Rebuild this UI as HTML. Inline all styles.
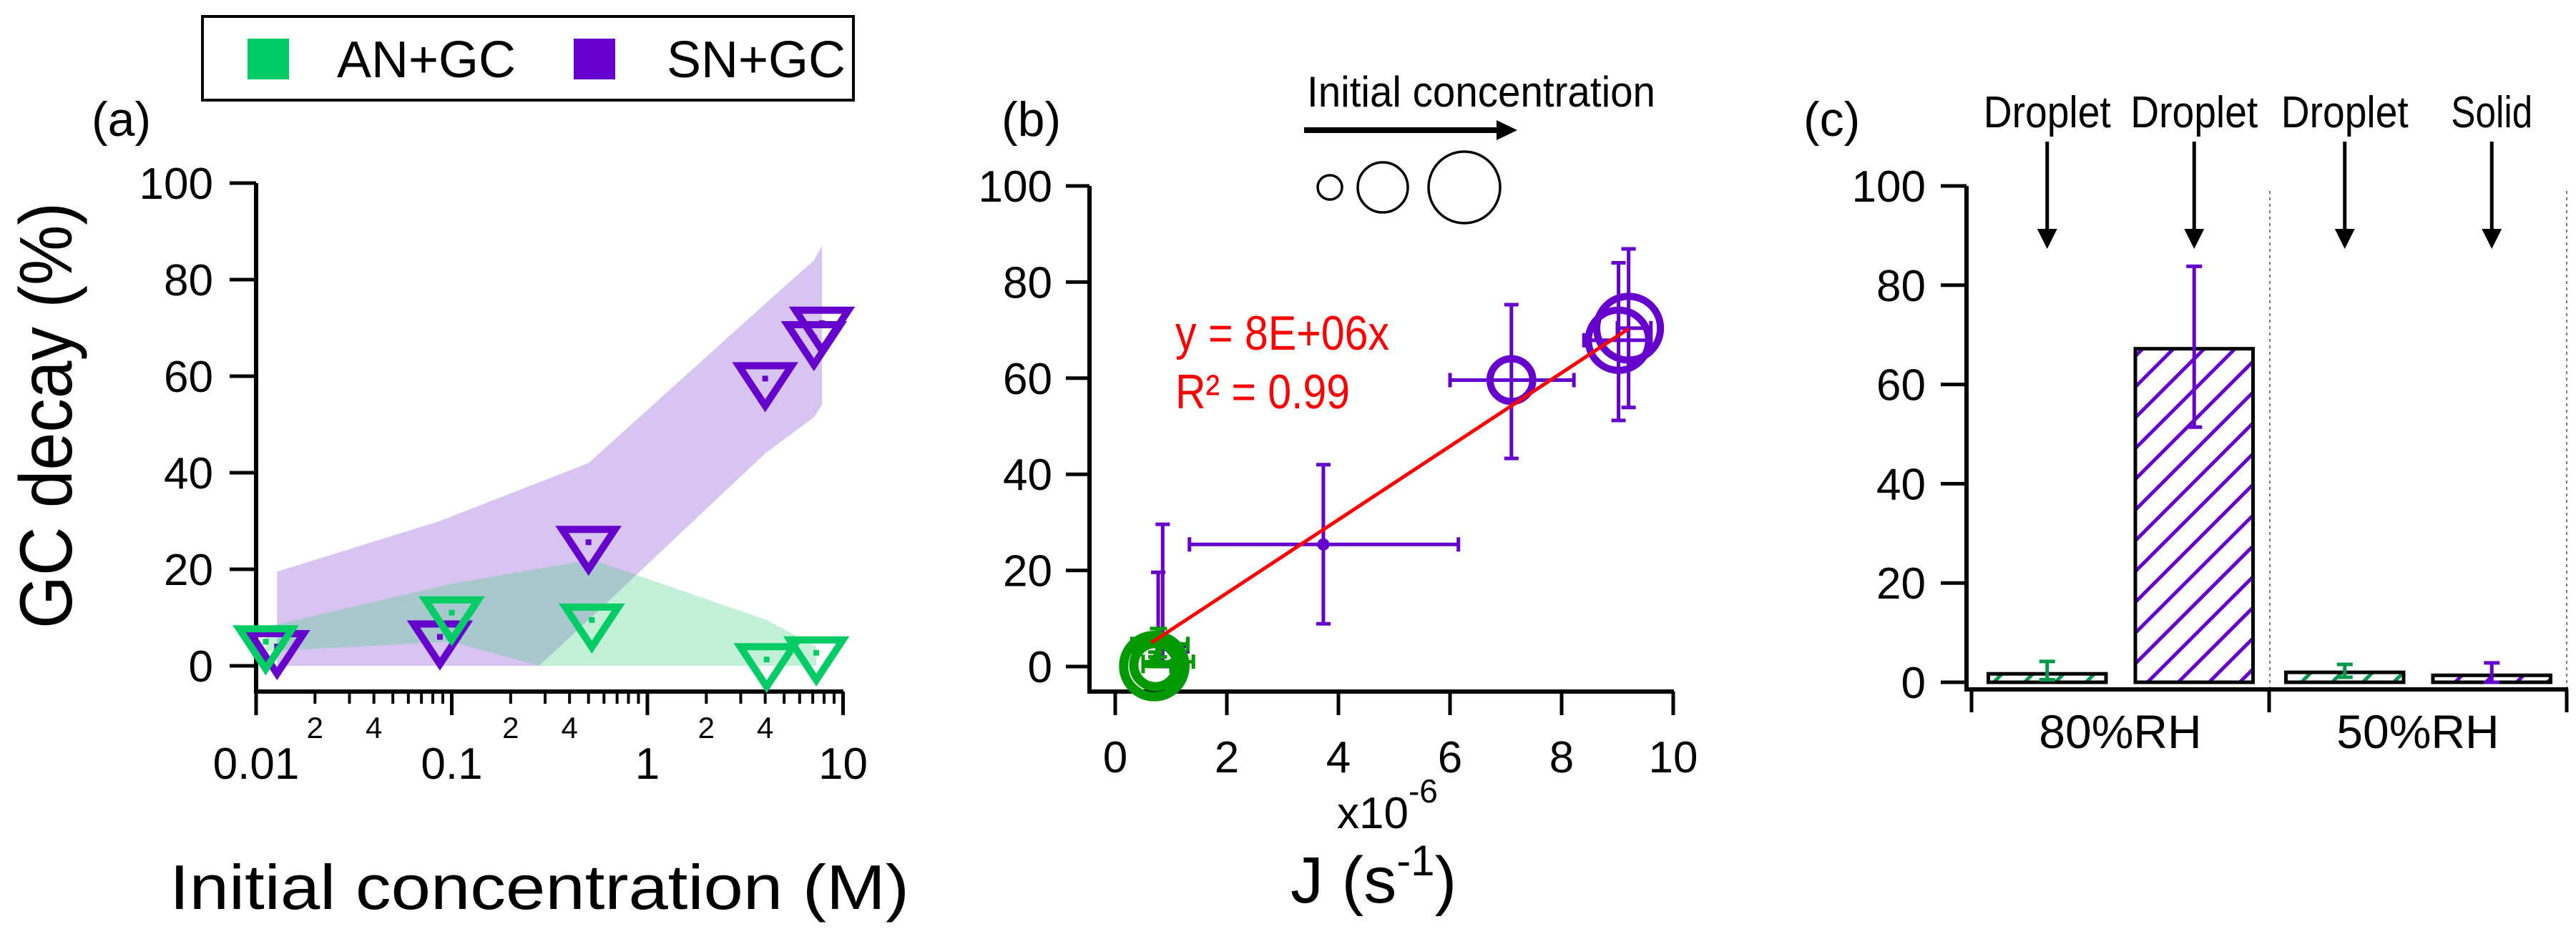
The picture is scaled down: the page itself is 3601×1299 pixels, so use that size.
<!DOCTYPE html>
<html><head><meta charset="utf-8"><style>
html,body{margin:0;padding:0;background:#fff;}
svg{display:block;font-family:"Liberation Sans",sans-serif;}
</style></head><body>
<svg id="fig" xmlns="http://www.w3.org/2000/svg" width="3601" height="1299" viewBox="0 0 3601 1299">
<defs>
<pattern id="hatchP" patternUnits="userSpaceOnUse" width="43" height="43"><path d="M-5,48 L48,-5 M-10,10 L10,-10 M33,53 L53,33" stroke="#6600cc" stroke-width="5"/></pattern>
<pattern id="hatchG" patternUnits="userSpaceOnUse" width="43" height="43"><path d="M-5,48 L48,-5 M-10,10 L10,-10 M33,53 L53,33" stroke="#00994c" stroke-width="5"/></pattern>
<clipPath id="clipA"><rect x="358" y="0" width="830" height="931"/></clipPath>
</defs>
<g id="legend">
<rect x="283" y="23" width="910" height="117" fill="#fff" stroke="#000" stroke-width="4"/>
<rect x="346" y="54" width="58" height="57" fill="#00cc66"/>
<text x="471" y="108" font-size="72" textLength="250" lengthAdjust="spacingAndGlyphs">AN+GC</text>
<rect x="802" y="54" width="58" height="57" fill="#6600cc"/>
<text x="932" y="108" font-size="72" textLength="250" lengthAdjust="spacingAndGlyphs">SN+GC</text>
</g>
<text x="128" y="190" font-size="68">(a)</text>
<text x="1400" y="190" font-size="68">(b)</text>
<text x="2521" y="190" font-size="68">(c)</text>
<text transform="translate(100,879) rotate(-90)" font-size="104" textLength="596" lengthAdjust="spacingAndGlyphs">GC decay (%)</text>
<text x="237" y="1271" font-size="88" textLength="1034" lengthAdjust="spacingAndGlyphs">Initial concentration (M)</text>
<text x="1804" y="1262" font-size="92">J (s<tspan font-size="60" dy="-38">-1</tspan><tspan dy="38">)</tspan></text>
<text x="1869" y="1158" font-size="62">x10<tspan font-size="46" dy="-36">-6</tspan></text>
<g id="gA"></g><g id="gB"></g><g id="gC"></g>
</svg>
<script>
// ---------- Panel (a) data ----------
const anConc = [0.0112, 0.1, 0.52, 4.07, 7.3];
const anDecay = [5, 11, 9.5, 1.3, 2.7];
const anUpper = [8, 17, 22, 9.5, 4];
const anLower = [3, 5, -3, -8, -1];
const snConc = [0.0128, 0.087, 0.5, 4.0, 7.1, 7.8];
const snDecay = [4, 6, 25.6, 59.5, 68, 71];
const snUpper = [19.5, 30, 42, 75, 84, 87];
const snLower = [-10, -19, 9.5, 44, 51.5, 54];
const yTicks = [0, 20, 40, 60, 80, 100];
const logMajor = [0.01, 0.1, 1, 10];
const logMajorLabels = ['0.01', '0.1', '1', '10'];
// ---------- Panel (b) data ----------
const snJ = [0.77, 0.85, 3.73, 7.10, 9.02, 9.2];
const snJlo = [0.3, 0.3, 1.33, 6.0, 8.4, 9.0];
const snJhi = [1.3, 1.3, 6.15, 8.22, 9.6, 9.6];
const snY = [4.2, 4.2, 25.4, 59.6, 67.9, 70.4];
const snYlo = [0, 0, 8.9, 43.3, 51.2, 53.9];
const snYhi = [19.6, 29.6, 42, 75.3, 84, 86.9];
const anJ = [0.8, 0.75, 0.72, 0.72, 0.70];
const anJlo = [0.3, 0.3, 0.5, 0.5, 0.5];
const anJhi = [1.3, 1.3, 1.4, 1.1, 1.0];
const anY = [4.7, 4.7, 1, 0.3, 0.1];
const anYlo = [2, 2, 0, 0, 0];
const anYhi = [7.9, 7.9, 3, 2, 1];
const fitSlope = 7.64;
const fitRange = [0.65, 9.2];
const bTicks = [0, 2, 4, 6, 8, 10];
// ---------- Panel (c) data ----------
const barCats = ['80%RH', '50%RH'];
const barVals = [1.7, 67.2, 2.0, 1.4];
const barErrLo = [0.5, 51.4, 1.0, 0];
const barErrHi = [4.2, 83.8, 3.6, 3.9];
const barStates = ['Droplet', 'Droplet', 'Droplet', 'Solid'];
const barSeries = ['AN', 'SN', 'AN', 'SN'];

const NS = 'http://www.w3.org/2000/svg';
function mk(parent, tag, attrs, txt) {
  const e = document.createElementNS(NS, tag);
  for (const k in attrs) e.setAttribute(k, attrs[k]);
  if (txt !== undefined) e.textContent = txt;
  parent.appendChild(e);
  return e;
}
const GREEN = '#00cc66', PURPLE = '#6600cc', DGREEN = '#009900';

// ===== Panel A =====
const gA = document.getElementById('gA');
const axA = v => 358 + (Math.log10(v) + 2) * 273.5;
const ayA = v => 931 - v * 6.75;
function band(xs, up, lo, fill, name) {
  let d = 'M' + xs.map((x, i) => axA(x) + ',' + ayA(up[i])).join(' L');
  for (let i = xs.length - 1; i >= 0; i--) d += ' L' + axA(xs[i]) + ',' + ayA(lo[i]);
  const p = mk(gA, 'path', {d: d + 'Z', fill: fill, 'clip-path': 'url(#clipA)'});
  
  
}
band(snConc, snUpper, snLower, 'rgb(216,196,240)', 'sn-uncertainty-band');
band(anConc, anUpper, anLower, 'rgba(60,210,130,0.31)', 'an-uncertainty-band');
const axisA = mk(gA, 'path', {d: 'M358,256 L358,967 L1179,967', fill: 'none', stroke: '#000', 'stroke-width': 6});


yTicks.forEach(t => {
  const tk = mk(gA, 'line', {x1: 321, x2: 358, y1: ayA(t), y2: ayA(t), stroke: '#000', 'stroke-width': 5});
  
  
  const lb = mk(gA, 'text', {x: 298, y: ayA(t) + 22, 'font-size': 62, 'text-anchor': 'end'}, String(t));
  
  
});
logMajor.forEach((m, i) => {
  const tk = mk(gA, 'line', {x1: axA(m), x2: axA(m), y1: 967, y2: 1000, stroke: '#000', 'stroke-width': 5});
  
  
  const lb = mk(gA, 'text', {x: axA(m), y: 1089, 'font-size': 62, 'text-anchor': 'middle'}, logMajorLabels[i]);
  
  
  if (i < logMajor.length - 1) {
    for (let k = 2; k <= 9; k++) {
      const v = m * k;
      const mt = mk(gA, 'line', {x1: axA(v), x2: axA(v), y1: 967, y2: 984, stroke: '#000', 'stroke-width': 4});
      
      
      if (k === 2 || k === 4) {
        const ml = mk(gA, 'text', {x: axA(v), y: 1032, 'font-size': 42, 'text-anchor': 'middle'}, String(k));
        
        
      }
    }
  }
});
function tri(x, y, col, name) {
  const cx = axA(x), cy = ayA(y);
  const t = mk(gA, 'path', {d: `M${cx-37},${cy-18} L${cx+37},${cy-18} L${cx},${cy+38} Z`, fill: 'none', stroke: col, 'stroke-width': 10});
  
  
  const d = mk(gA, 'rect', {x: cx - 4, y: cy - 4, width: 8, height: 8, fill: col});
  
  
}
snConc.forEach((c, i) => tri(c, snDecay[i], PURPLE, 'sn-marker'));
anConc.forEach((c, i) => tri(c, anDecay[i], GREEN, 'an-marker'));

// ===== Panel B =====
const gB = document.getElementById('gB');
const axB = v => 1559 + v * 78;
const ayB = v => 932 - v * 6.72;
const axisB = mk(gB, 'path', {d: 'M1523,260 L1523,967 L2340,967', fill: 'none', stroke: '#000', 'stroke-width': 6});


yTicks.forEach(t => {
  const tk = mk(gB, 'line', {x1: 1490, x2: 1523, y1: ayB(t), y2: ayB(t), stroke: '#000', 'stroke-width': 5});
  
  
  const lb = mk(gB, 'text', {x: 1471, y: ayB(t) + 22, 'font-size': 62, 'text-anchor': 'end'}, String(t));
  
  
});
bTicks.forEach(t => {
  const tk = mk(gB, 'line', {x1: axB(t), x2: axB(t), y1: 967, y2: 1000, stroke: '#000', 'stroke-width': 5});
  
  
  const lb = mk(gB, 'text', {x: axB(t), y: 1080, 'font-size': 62, 'text-anchor': 'middle'}, String(t));
  
  
});
const sl = mk(gB, 'text', {x: 1827, y: 149, 'font-size': 60, textLength: 487, lengthAdjust: 'spacingAndGlyphs'}, 'Initial concentration');


const arr = mk(gB, 'path', {d: 'M1823,178 L2092,178 L2092,168 L2121,182 L2092,196 L2092,186 L1823,186 Z', fill: '#000'});


[[1859, 17], [1933, 35], [2047, 50]].forEach(p => {
  const c = mk(gB, 'circle', {cx: p[0], cy: 262, r: p[1], fill: 'none', stroke: '#000', 'stroke-width': 3.5});
  
  
});
function errBars(xs, ys, xlo, xhi, ylo, yhi, col, name) {
  xs.forEach((x, i) => {
    const px = axB(x), py = ayB(ys[i]);
    const d = `M${axB(xlo[i])},${py} L${axB(xhi[i])},${py} M${axB(xlo[i])},${py-10} L${axB(xlo[i])},${py+10} M${axB(xhi[i])},${py-10} L${axB(xhi[i])},${py+10}` +
      ` M${px},${ayB(ylo[i])} L${px},${ayB(yhi[i])} M${px-10},${ayB(ylo[i])} L${px+10},${ayB(ylo[i])} M${px-10},${ayB(yhi[i])} L${px+10},${ayB(yhi[i])}`;
    const e = mk(gB, 'path', {d: d, stroke: col, 'stroke-width': 5, fill: 'none'});
    
    
  });
}
const sizeOf = c => 13 * Math.pow(c, 0.6);
function circles(xs, ys, conc, col, name, sw) {
  xs.forEach((x, i) => {
    const r = sizeOf(conc[i]);
    let c;
    if (r < 12) c = mk(gB, 'circle', {cx: axB(x), cy: ayB(ys[i]), r: Math.max(r, 3), fill: col});
    else c = mk(gB, 'circle', {cx: axB(x), cy: ayB(ys[i]), r: r, fill: 'none', stroke: col, 'stroke-width': sw});
    
    
  });
}
errBars(snJ, snY, snJlo, snJhi, snYlo, snYhi, PURPLE, 'sn-error-bar');
circles(snJ, snY, snConc, PURPLE, 'sn-point', 10);
errBars(anJ, anY, anJlo, anJhi, anYlo, anYhi, DGREEN, 'an-error-bar');
circles(anJ, anY, anConc, DGREEN, 'an-point', 13);
const fit = mk(gB, 'line', {x1: axB(fitRange[0]), y1: ayB(fitSlope * fitRange[0]), x2: axB(fitRange[1]), y2: ayB(fitSlope * fitRange[1]), stroke: '#ff0000', 'stroke-width': 5});


const eq = mk(gB, 'text', {x: 1643, y: 489, 'font-size': 68, fill: '#ff0000', textLength: 299, lengthAdjust: 'spacingAndGlyphs'}, 'y = 8E+06x');


const r2 = mk(gB, 'text', {x: 1643, y: 571, 'font-size': 68, fill: '#ff0000', textLength: 244, lengthAdjust: 'spacingAndGlyphs'}, 'R² = 0.99');



// ===== Panel C =====
const gC = document.getElementById('gC');
const ayC = v => 954 - v * 6.94;
const bandL = 2756, bandW = 416;
[3173, 3588].forEach(x => {
  const dl = mk(gC, 'line', {x1: x, x2: x, y1: 267, y2: 964, stroke: '#777', 'stroke-width': 2, 'stroke-dasharray': '4,5'});
  
  
});
const axisC = mk(gC, 'path', {d: 'M2749,260 L2749,964 L3590,964', fill: 'none', stroke: '#000', 'stroke-width': 6});


yTicks.forEach(t => {
  const tk = mk(gC, 'line', {x1: 2713, x2: 2749, y1: ayC(t), y2: ayC(t), stroke: '#000', 'stroke-width': 5});
  
  
  const lb = mk(gC, 'text', {x: 2692, y: ayC(t) + 22, 'font-size': 62, 'text-anchor': 'end'}, String(t));
  
  
});
[0, 1, 2].forEach(k => {
  const tk = mk(gC, 'line', {x1: bandL + k * bandW, x2: bandL + k * bandW, y1: 964, y2: 996, stroke: '#000', 'stroke-width': 5});
  
  
});
barCats.forEach((c, k) => {
  const lb = mk(gC, 'text', {x: bandL + k * bandW + bandW / 2, y: 1046, 'font-size': 66, 'text-anchor': 'middle'}, c);
  
  
});
barVals.forEach((v, i) => {
  const g = Math.floor(i / 2), j = i % 2;
  const x0 = bandL + g * bandW + 23.5 + j * 205.5, w = 164.5;
  const cx = x0 + w / 2;
  const bar = mk(gC, 'rect', {x: x0, y: ayC(v), width: w, height: ayC(0) - ayC(v), fill: barSeries[i] === 'SN' ? 'url(#hatchP)' : 'url(#hatchG)', stroke: '#000', 'stroke-width': 5});
  
  
  const col = barSeries[i] === 'SN' ? PURPLE : '#00994c';
  const eb = mk(gC, 'path', {d: `M${cx},${ayC(barErrLo[i])} L${cx},${ayC(barErrHi[i])} M${cx-11},${ayC(barErrLo[i])} L${cx+11},${ayC(barErrLo[i])} M${cx-11},${ayC(barErrHi[i])} L${cx+11},${ayC(barErrHi[i])}`, stroke: col, 'stroke-width': 5, fill: 'none'});
  
  
  const st = mk(gC, 'text', {x: cx, y: 178, 'font-size': 62, 'text-anchor': 'middle', textLength: barStates[i] === 'Solid' ? 114 : 178, lengthAdjust: 'spacingAndGlyphs'}, barStates[i]);
  
  
  const ar = mk(gC, 'path', {d: `M${cx-2.5},198 L${cx+2.5},198 L${cx+2.5},320 L${cx+14},320 L${cx},348 L${cx-14},320 L${cx-2.5},320 Z`, fill: '#000'});
  
  
});
</script>
</body></html>
